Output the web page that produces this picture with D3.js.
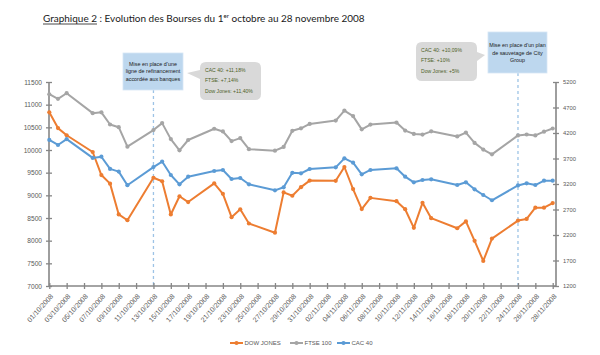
<!DOCTYPE html>
<html><head><meta charset="utf-8">
<script src="https://cdn.jsdelivr.net/npm/d3@7"></script>
<style>body{margin:0;background:#fff}svg{display:block}</style>
</head><body><svg id="c" width="600" height="355"></svg>
<script>
// ---------- DATA ----------
const dates = ["01/10/2008","02/10/2008","03/10/2008","06/10/2008","07/10/2008","08/10/2008","09/10/2008","10/10/2008",
"13/10/2008","14/10/2008","15/10/2008","16/10/2008","17/10/2008","20/10/2008","21/10/2008","22/10/2008","23/10/2008","24/10/2008",
"27/10/2008","28/10/2008","29/10/2008","30/10/2008","31/10/2008","03/11/2008","04/11/2008","05/11/2008","06/11/2008","07/11/2008",
"10/11/2008","11/11/2008","12/11/2008","13/11/2008","14/11/2008","17/11/2008","18/11/2008","19/11/2008","20/11/2008","21/11/2008",
"24/11/2008","25/11/2008","26/11/2008","27/11/2008","28/11/2008"];
const dowJones = [10831,10483,10325,9956,9447,9258,8579,8451,9388,9311,8578,8979,8852,9265,9034,8519,8691,8379,
8176,9065,8991,9181,9325,9320,9625,9139,8696,8944,8871,8694,8283,8835,8497,8274,8425,7997,7552,8046,8443,8479,8727,8727,8829];
const ftse100 = [4960,4870,4980,4589,4605,4367,4314,3932,4257,4394,4080,3861,4063,4283,4230,4041,4100,3883,
3853,3926,4243,4292,4377,4443,4640,4531,4272,4365,4404,4247,4182,4169,4233,4132,4208,4006,3875,3781,4153,4171,4153,4226,4288];
const cac40 = [4065,3965,4080,3712,3735,3496,3443,3176,3532,3640,3376,3193,3343,3455,3475,3298,3318,3194,
3076,3135,3420,3410,3494,3527,3703,3618,3390,3475,3507,3343,3233,3278,3292,3180,3233,3096,2984,2881,3172,3214,3180,3265,3265];
const seriesNames = ["DOW JONES","FTSE 100","CAC 40"];
const leftTicks = [7000,7500,8000,8500,9000,9500,10000,10500,11000,11500];
const rightTicks = [1200,1700,2200,2700,3200,3700,4200,4700,5200];
const xTickLabels = ["01/10/2008","03/10/2008","05/10/2008","07/10/2008","09/10/2008","11/10/2008","13/10/2008","15/10/2008",
"17/10/2008","19/10/2008","21/10/2008","23/10/2008","25/10/2008","27/10/2008","29/10/2008","31/10/2008","02/11/2008","04/11/2008",
"06/11/2008","08/11/2008","10/11/2008","12/11/2008","14/11/2008","16/11/2008","18/11/2008","20/11/2008","22/11/2008","24/11/2008",
"26/11/2008","28/11/2008"];
const event1Date = "13/10/2008", event1Text = ["Mise en place d\u2019une","ligne de refinancement","accord\u00e9e aux banques"];
const event1Callout = ["CAC 40: +11,18%","FTSE: +7,14%","Dow Jones: +11,40%"];
const event2Date = "24/11/2008", event2Text = ["Mise en place d\u2019un plan","de sauvetage de City","Group"];
const event2Callout = ["CAC 40: +10,09%","FTSE: +10%","Dow Jones: +5%"];

// ---------- CHART ----------
const parse = d3.utcParse("%d/%m/%Y");
const svg = d3.select("#c");
const FONT = "'Liberation Sans', Arial, sans-serif";
const axisCol = "#868686", labCol = "#595959";
const colors = ["#ED7D31","#A5A5A5","#5B9BD5"];

const x = d3.scaleUtc().domain([parse("01/10/2008"), parse("28/11/2008")]).range([49.3, 552.7]);
const yL = d3.scaleLinear().domain([7000,11500]).range([286,82]);
const yR = d3.scaleLinear().domain([1200,5200]).range([286,82]);

// Title
const title = svg.append("text").attr("x",43).attr("y",22).attr("font-family","Lato, "+FONT)
  .attr("fill","#1a1a1a").attr("font-size",11);
const t1 = title.append("tspan").text("Graphique 2");
title.append("tspan").text(" : Evolution des Bourses du 1");
title.append("tspan").text("er").attr("font-size",7).attr("dy",-4);
title.append("tspan").text(" octobre au 28 novembre 2008").attr("dy",4);
{
  const w = title.node().getComputedTextLength();
  const fs = 11*322/w;
  title.attr("font-size",fs);
  title.selectAll("tspan").filter((d,i)=>i===2).attr("font-size",fs*0.62);
  const uw = t1.node().getComputedTextLength();
  svg.append("line").attr("x1",43).attr("x2",43+uw).attr("y1",24).attr("y2",24)
    .attr("stroke","#1a1a1a").attr("stroke-width",0.8);
}

// dashed event lines
const evLines = [[event1Date,90],[event2Date,73]];
svg.selectAll(".ev").data(evLines).join("line")
  .attr("x1",d=>x(parse(d[0]))).attr("x2",d=>x(parse(d[0])))
  .attr("y1",d=>d[1]).attr("y2",286)
  .attr("stroke","#9DC3E6").attr("stroke-width",1.3).attr("stroke-dasharray","3,3");

// Axes
function styleAxis(g){
  g.select(".domain").remove();
  g.selectAll("line").attr("stroke",axisCol).attr("stroke-width",1.3);
  g.selectAll("text").attr("fill",labCol).attr("font-family",FONT);
}
const gL = svg.append("g").attr("transform","translate(49,0)")
  .call(d3.axisLeft(yL).tickValues(leftTicks).tickSize(3).tickPadding(4).tickFormat(d3.format("d")));
styleAxis(gL); gL.selectAll(".tick line").attr("x1",3);
gL.selectAll("text").attr("font-size",6.6);
svg.append("line").attr("x1",49).attr("x2",49).attr("y1",82).attr("y2",286).attr("stroke",axisCol).attr("stroke-width",1.6);

const gR = svg.append("g").attr("transform","translate(556,0)")
  .call(d3.axisRight(yR).tickValues(rightTicks).tickSize(3).tickPadding(4).tickFormat(d3.format("d")));
styleAxis(gR); gR.selectAll(".tick line").attr("x1",-3);
gR.selectAll("text").attr("font-size",5.8);
svg.append("line").attr("x1",556).attr("x2",556).attr("y1",82).attr("y2",286).attr("stroke",axisCol).attr("stroke-width",1.6);

const gX = svg.append("g").attr("transform","translate(0,286)")
  .call(d3.axisBottom(x).tickValues(xTickLabels.map(parse)).tickSize(3).tickFormat(d3.utcFormat("%d/%m/%Y")));
styleAxis(gX); gX.selectAll(".tick line").attr("y1",-3);
gX.selectAll("text").attr("font-size",7).attr("text-anchor","end")
  .attr("y",0).attr("dy","0.35em").attr("transform","translate(2,9) rotate(-48)");
svg.append("line").attr("x1",49).attr("x2",556).attr("y1",286).attr("y2",286).attr("stroke",axisCol).attr("stroke-width",1.6);

// Series
const series = [
  {name:seriesNames[0], vals:dowJones, y:yL, c:colors[0]},
  {name:seriesNames[1], vals:ftse100, y:yR, c:colors[1]},
  {name:seriesNames[2], vals:cac40, y:yR, c:colors[2]}
];
series.forEach(s=>{
  const pts = dates.map((d,i)=>({date:parse(d), v:s.vals[i]}));
  const line = d3.line().x(d=>x(d.date)).y(d=>s.y(d.v));
  svg.append("path").datum(pts).attr("d",line).attr("fill","none").attr("stroke",s.c)
    .attr("stroke-width",2).attr("stroke-linejoin","round");
  svg.append("g").selectAll("circle").data(pts).join("circle")
    .attr("cx",d=>x(d.date)).attr("cy",d=>s.y(d.v)).attr("r",2.1).attr("fill",s.c);
});

// Event boxes
function box(x0,y0,w,h,lines,lineYs){
  svg.append("rect").attr("x",x0).attr("y",y0).attr("width",w).attr("height",h)
    .attr("fill","#BDD7EE").attr("stroke","#d6e6f5").attr("stroke-width",0.8);
  lines.forEach((t,i)=>svg.append("text").attr("x",x0+w/2).attr("y",lineYs[i]).attr("dy","0.35em")
    .attr("text-anchor","middle").attr("font-family",FONT).attr("font-size",5.4).attr("fill","#1a1a1a").text(t));
}
box(123,53,60,37,event1Text,[64,71.5,79]);
box(488,32,59,41,event2Text,[45.5,52.8,60]);

// Callouts
function callout(x0,y0,w,h,tip,side,lines,tx,lineYs){
  const r=6, x1=x0+w, y1=y0+h;
  let p;
  if(side==="left"){
    p=`M${x0+r},${y0} H${x1-r} Q${x1},${y0} ${x1},${y0+r} V${y1-r} Q${x1},${y1} ${x1-r},${y1} H${x0+r} Q${x0},${y1} ${x0},${y1-r} V${tip[1]+6} L${tip[0]},${tip[1]} L${x0},${tip[1]-3} V${y0+r} Q${x0},${y0} ${x0+r},${y0} Z`;
  } else {
    p=`M${x0+r},${y0} H${x1-r} Q${x1},${y0} ${x1},${y0+r} V${tip[1]-3} L${tip[0]},${tip[1]} L${x1},${tip[1]+6} V${y1-r} Q${x1},${y1} ${x1-r},${y1} H${x0+r} Q${x0},${y1} ${x0},${y1-r} V${y0+r} Q${x0},${y0} ${x0+r},${y0} Z`;
  }
  svg.append("path").attr("d",p).attr("fill","#D9D9D9");
  lines.forEach((t,i)=>svg.append("text").attr("x",tx).attr("y",lineYs[i]).attr("dy","0.35em")
    .attr("font-family",FONT).attr("font-size",5.1).attr("fill","#4F6228").text(t));
}
callout(200,62,61,38,[187,73],"left",event1Callout,205,[70,80.7,91.3]);
callout(416,42,61,39,[485,55],"right",event2Callout,421,[50,60.7,71.3]);

// Legend
const legX = [230,290,337];
const lg = svg.append("g");
series.forEach((s,i)=>{
  const g = lg.append("g").attr("transform",`translate(${legX[i]},343)`);
  g.append("line").attr("x1",0).attr("x2",13).attr("stroke",s.c).attr("stroke-width",2);
  g.append("circle").attr("cx",6.5).attr("r",2.1).attr("fill",s.c);
  g.append("text").attr("x",14.5).attr("dy","0.35em").attr("font-family",FONT).attr("font-size",6)
    .attr("fill",labCol).text(s.name);
});
</script></body></html>
